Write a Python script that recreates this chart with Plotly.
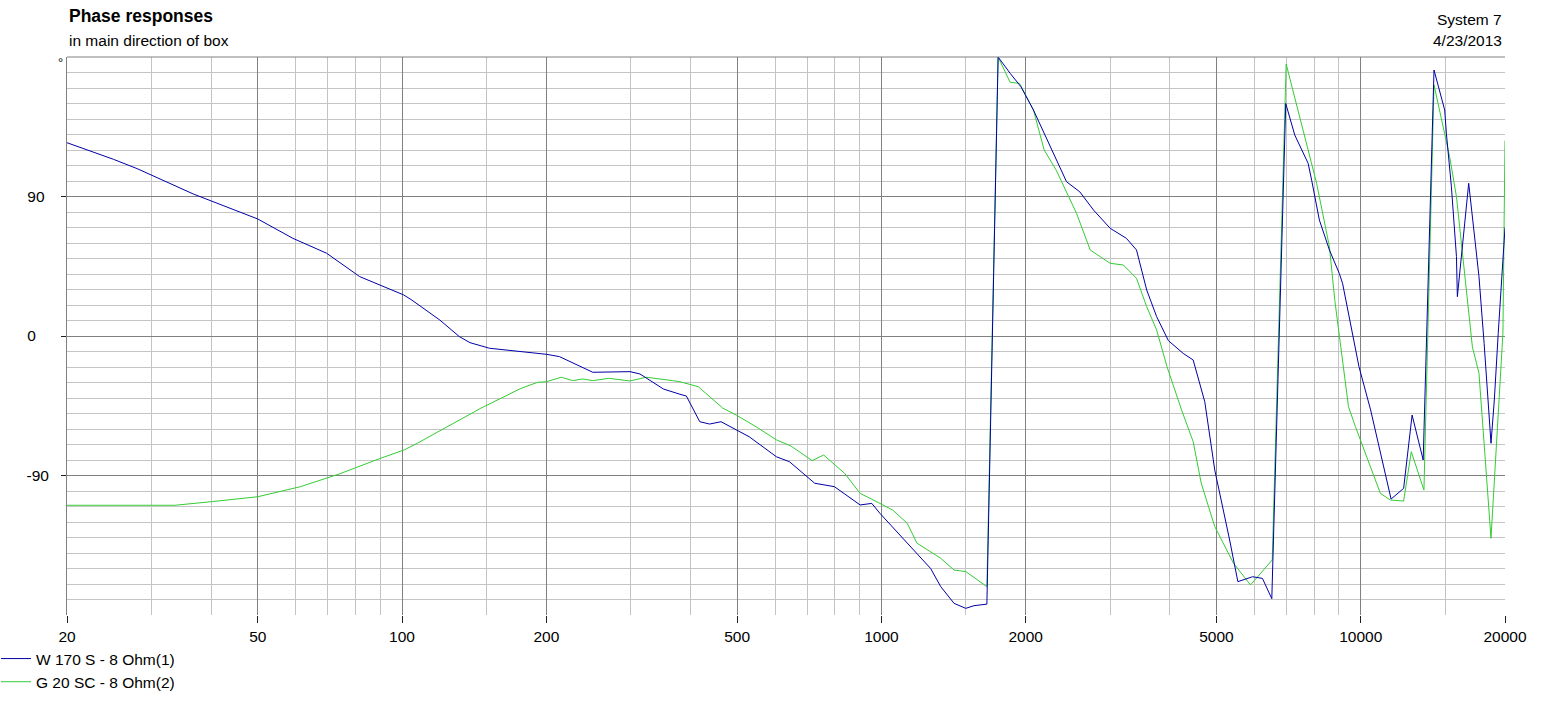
import math
import plotly.graph_objects as go

# ---------------- data ----------------
name_w = "W 170 S - 8 Ohm(1)"
freq_w = [20, 25, 28, 36.7, 50, 59.2, 69.6, 81.6, 100.8, 104.8, 119.9, 131.7, 138.6, 152.2,
          200, 213, 250, 299, 313.6, 351, 380, 391.8, 418, 438, 463, 498, 530, 604, 643, 726,
          798, 903, 955, 993, 1150, 1267, 1330, 1418, 1500, 1560, 1660, 1752, 1856, 1955, 2076,
          2321, 2434, 2594, 2770, 3001, 3245, 3406, 3577, 3752, 3970, 4262, 4472, 4728, 4961,
          5328, 5543, 5948, 6238, 6524, 6976, 7284, 7768, 7900, 8200, 8604, 9022, 9165, 9917,
          10487, 11079, 11571, 12290, 12800, 13500, 14220, 14970, 15090, 15460, 15840, 15910,
          16800, 17650, 18090, 18700, 19000, 19360, 20000]
phase_w = [124.7, 114, 108, 91.6, 75.5, 63, 53.4, 38.3, 26.5, 23.2, 10.3, -0.4, -4.3, -7.9,
           -11.8, -13.3, -23.4, -23, -24.5, -34.2, -37.6, -38.7, -55.3, -56.8, -55.3, -60.6, -65,
           -77.9, -81.1, -95, -97.2, -109, -108, -114.4, -136, -150, -161.7, -172.5, -175.7,
           -174, -173, 180, 169.5, 160.8, 145.8, 113.5, 99.5, 93, 81.3, 69.5, 63, 55.5, 29.7,
           12.5, -3, -11.2, -15.5, -42.4, -86.5, -131.6, -158.5, -155.3, -156.4, -169.5, 150,
           129.7, 111.4, 100.6, 74.8, 55.5, 40.4, 34, -19.8, -47.7, -80, -105.2, -98.3, -51,
           -80, 171.6, 145.8, 130.8, 96.3, 51.2, 25.4, 98.5, 38.3, -4.7, -69.2, -41.3, 1.7, 70]

name_g = "G 20 SC - 8 Ohm(2)"
freq_g = [20, 33.6, 40, 50, 61.4, 74, 90, 101, 107.6, 146, 177, 191.7, 200, 215, 227, 238, 250,
          270, 299, 323, 367, 380, 415, 467, 498, 550, 604, 648, 717, 758, 838, 903, 993, 1056,
          1132, 1187, 1330, 1418, 1500, 1660, 1752, 1856, 1942, 2076, 2186, 2316, 2553, 2727,
          3001, 3198, 3406, 3577, 3752, 3944, 4229, 4472, 4648, 4961, 5427, 5890, 6538, 6990,
          7768, 8091, 8604, 8830, 9430, 9750, 10990, 11530, 12290, 12750, 13550, 14220, 15330,
          15840, 17100, 17650, 18700, 19000, 19800, 20000]
phase_g = [-109.2, -109.2, -106.9, -103.7, -97.2, -89, -79, -73.5, -69.2, -46.6, -33.8, -29.9,
           -29.5, -26.6, -28.8, -27.7, -28.8, -27.3, -29, -26.6, -28.8, -29.5, -32.7, -46.6, -51,
           -58.9, -67, -71, -80.4, -76.8, -88.6, -101.5, -108, -112.3, -120.8, -133.7, -143.4,
           -151, -152, -161.7, 180, 163.7, 163, 145.8, 120, 107, 79.2, 55.5, 46.9, 45.8, 37.2,
           18.9, 3.9, -19.8, -47.7, -68.2, -95, -123, -146.6, -160.6, -144.5, 175.5, 120, 98.5,
           57.6, 23, -45.6, -58.5, -101.5, -105.8, -106.5, -74.6, -99.4, 162, 115.7, 89.9, -7,
           -24, -130.5, -92.9, 1.7, 126]

x_tick_vals = [20, 50, 100, 200, 500, 1000, 2000, 5000, 10000, 20000]
x_tick_text = ["20", "50", "100", "200", "500", "1000", "2000", "5000", "10000", "20000"]
x_minor_vals = [30, 40, 60, 70, 80, 90, 150, 300, 400, 600, 700, 800, 900, 1500,
                3000, 4000, 6000, 7000, 8000, 9000, 15000]
y_tick_vals = [-90, 0, 90]
y_tick_text = ["-90", "0\u00a0\u00a0\u00a0", "90\u00a0"]
y_minor_vals = [v for v in range(-170, 180, 10) if v not in (-90, 0, 90)]

title = "Phase responses"
subtitle = "in main direction of box"
system = "System 7"
date = "4/23/2013"

# ---------------- figure ----------------
FONT = "Liberation Sans, Arial, sans-serif"
BLUE = "#0000a8"
GREEN = "#33cc33"

fig = go.Figure()
fig.add_trace(go.Scatter(x=freq_g, y=phase_g, mode="lines", name=name_g,
                         line=dict(color=GREEN, width=1)))
fig.add_trace(go.Scatter(x=freq_w, y=phase_w, mode="lines", name=name_w,
                         line=dict(color=BLUE, width=1)))

fig.update_xaxes(
    type="log", range=[math.log10(20), math.log10(20000)],
    tickvals=x_tick_vals, ticktext=x_tick_text,
    showgrid=True, gridcolor="#808080", gridwidth=1,
    ticks="outside", ticklen=7, tickcolor="#202020", tickwidth=1,
    minor=dict(tickvals=x_minor_vals, showgrid=True, gridcolor="#c4c4c4", gridwidth=1, ticks=""),
    zeroline=False, showline=False, automargin=False,
    tickfont=dict(family=FONT, size=15.5, color="black"),
)
fig.update_yaxes(
    range=[-180, 180],
    tickvals=y_tick_vals, ticktext=y_tick_text,
    showgrid=True, gridcolor="#808080", gridwidth=1,
    ticks="outside", ticklen=5, tickcolor="#202020", tickwidth=1,
    minor=dict(tickvals=y_minor_vals, showgrid=True, gridcolor="#c4c4c4", gridwidth=1, ticks=""),
    zeroline=False, showline=True, linecolor="#808080", linewidth=1, automargin=False,
    tickfont=dict(family=FONT, size=15.5, color="black"), ticklabelstandoff=9,
)

def py(p):  # pixel row -> paper y
    return (615 - p) / 558.0

def px(p):  # pixel col -> paper x
    return (p - 67) / 1438.0

annos = [
    dict(text="<b>" + title + "</b>", x=px(67), y=py(16), xanchor="left", yanchor="middle",
         font=dict(family=FONT, size=17.5, color="black")),
    dict(text=subtitle, x=px(67), y=py(40), xanchor="left", yanchor="middle",
         font=dict(family=FONT, size=15.5, color="black")),
    dict(text=system, x=px(1504), y=py(20), xanchor="right", yanchor="middle",
         font=dict(family=FONT, size=15.5, color="black")),
    dict(text=date, x=px(1504), y=py(40), xanchor="right", yanchor="middle",
         font=dict(family=FONT, size=15.5, color="black")),
    dict(text="°", x=px(60), y=py(63), xanchor="center", yanchor="middle",
         font=dict(family=FONT, size=13, color="black")),
]
for a in annos:
    a.update(xref="paper", yref="paper", showarrow=False)

fig.update_layout(
    width=1541, height=704,
    margin=dict(l=67, r=36, t=57, b=89, pad=0, autoexpand=False),
    paper_bgcolor="white", plot_bgcolor="white",
    font=dict(family=FONT, size=15.5, color="black"),
    annotations=annos,
    shapes=[dict(type="line", xref="paper", yref="paper", x0=0, x1=1, y0=1, y1=1,
                 line=dict(color="#808080", width=1))],
    showlegend=True,
    legend=dict(x=px(-4), y=py(642), xanchor="left", yanchor="top",
                traceorder="reversed", bgcolor="rgba(0,0,0,0)",
                font=dict(family=FONT, size=15.5, color="black"),
                tracegroupgap=0, itemwidth=30),
)

fig.write_html(
    "out.html",
    config={"displayModeBar": False},
    post_script="document.body.style.margin='0';document.body.style.padding='0';"
                "document.documentElement.style.overflow='hidden';",
)
